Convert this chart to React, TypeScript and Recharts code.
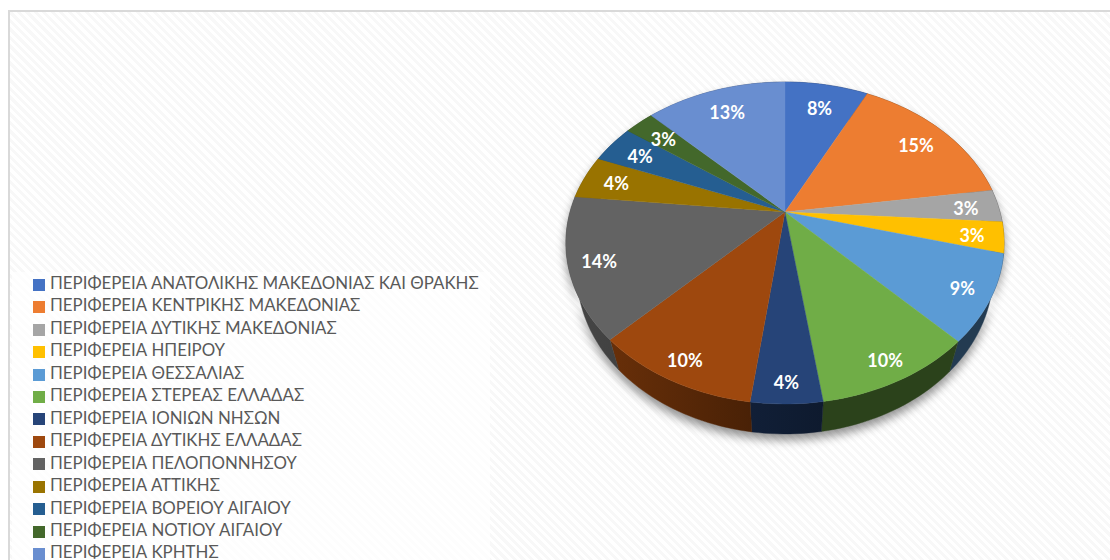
import React from "react";
import { PieChart, Pie, Legend } from "recharts";

const regions = [
  "ΠΕΡΙΦΕΡΕΙΑ ΑΝΑΤΟΛΙΚΗΣ ΜΑΚΕΔΟΝΙΑΣ ΚΑΙ ΘΡΑΚΗΣ",
  "ΠΕΡΙΦΕΡΕΙΑ ΚΕΝΤΡΙΚΗΣ ΜΑΚΕΔΟΝΙΑΣ",
  "ΠΕΡΙΦΕΡΕΙΑ ΔΥΤΙΚΗΣ ΜΑΚΕΔΟΝΙΑΣ",
  "ΠΕΡΙΦΕΡΕΙΑ ΗΠΕΙΡΟΥ",
  "ΠΕΡΙΦΕΡΕΙΑ ΘΕΣΣΑΛΙΑΣ",
  "ΠΕΡΙΦΕΡΕΙΑ ΣΤΕΡΕΑΣ ΕΛΛΑΔΑΣ",
  "ΠΕΡΙΦΕΡΕΙΑ ΙΟΝΙΩΝ ΝΗΣΩΝ",
  "ΠΕΡΙΦΕΡΕΙΑ ΔΥΤΙΚΗΣ ΕΛΛΑΔΑΣ",
  "ΠΕΡΙΦΕΡΕΙΑ ΠΕΛΟΠΟΝΝΗΣΟΥ",
  "ΠΕΡΙΦΕΡΕΙΑ ΑΤΤΙΚΗΣ",
  "ΠΕΡΙΦΕΡΕΙΑ ΒΟΡΕΙΟΥ ΑΙΓΑΙΟΥ",
  "ΠΕΡΙΦΕΡΕΙΑ ΝΟΤΙΟΥ ΑΙΓΑΙΟΥ",
  "ΠΕΡΙΦΕΡΕΙΑ ΚΡΗΤΗΣ",
];
const shares = [7.4, 15.3, 3.3, 3.1, 8.7, 9.9, 4.4, 10.3, 14.2, 4.4, 3.9, 2.6, 12.5];
// the percentages printed on the slices
const printed = [8, 15, 3, 3, 9, 10, 4, 10, 14, 4, 4, 3, 13];
const colors = [
  "#4472c4", "#ed7d31", "#a5a5a5", "#ffc000", "#5b9bd5", "#70ad47", "#264478",
  "#9e480e", "#636363", "#997300", "#255e91", "#43682b", "#698ed0",
];

const rows = regions.map((name, i) => ({ name, value: shares[i], fill: colors[i], printed: printed[i] }));

// Perspective projection of the unit pie onto the page
const PERSP = 0.1925;
const KY = 155;
const KX = 215;
const DEPTH = 30;
const SHRINK = 0.95;
const RAD = Math.PI / 180;

function project(cx: number, cy: number, angle: number, r = 1) {
  const t = (90 - angle) * RAD;
  const X = Math.sin(t) * r;
  const Y = Math.cos(t) * r;
  const d = 1 + PERSP * Y;
  return { x: cx + (KX * X) / d, y: cy - (KY * Y) / d };
}

function rim(cx: number, cy: number, start: number, end: number) {
  const n = Math.max(2, Math.ceil(Math.abs(end - start) / 1.5));
  const pts = [];
  for (let i = 0; i <= n; i++) pts.push(project(cx, cy, start + ((end - start) * i) / n));
  return pts;
}

function shade(hex: string, f: number) {
  const c = [1, 3, 5].map((i) => Math.round(parseInt(hex.slice(i, i + 2), 16) * f));
  return `rgb(${c[0]},${c[1]},${c[2]})`;
}

function TopSlice(p: any) {
  const pts = rim(p.cx, p.cy, p.startAngle, p.endAngle);
  const d = `M${p.cx},${p.cy} ` + pts.map((q) => `L${q.x.toFixed(2)},${q.y.toFixed(2)}`).join(" ") + " Z";
  return <path d={d} fill={p.fill} stroke={p.fill} strokeWidth={0.4} />;
}

function WallSlice(p: any) {
  const pts = rim(p.cx, p.cy, p.startAngle, p.endAngle);
  const low = pts
    .map((q) => ({ x: p.cx + (q.x - p.cx) * SHRINK, y: q.y + DEPTH }))
    .reverse();
  const d = [...pts, ...low].map((q, i) => `${i ? "L" : "M"}${q.x.toFixed(2)},${q.y.toFixed(2)}`).join(" ") + " Z";
  const factor = (x: number) => (x < p.cx ? 0.41 + ((p.cx - x) / 176) * 0.25 : 0.38);
  const a = pts[0].x;
  const b = pts[pts.length - 1].x;
  const left = Math.min(a, b);
  const right = Math.max(a, b);
  const id = `wall-${p.index}`;
  return (
    <g>
      <defs>
        <linearGradient id={id} x1="0" y1="0" x2="1" y2="0">
          <stop offset="0" stopColor={shade(p.fill, factor(left))} />
          <stop offset="1" stopColor={shade(p.fill, factor(right))} />
        </linearGradient>
      </defs>
      <path d={d} fill={`url(#${id})`} stroke={`url(#${id})`} strokeWidth={0.4} />
    </g>
  );
}

function SliceLabel(p: any) {
  const up = Math.cos((90 - p.midAngle) * RAD);
  const q = project(p.cx, p.cy, p.midAngle, 0.85 - 0.05 * up);
  return (
    <text x={q.x} y={q.y + 1} fill="#ffffff" textAnchor="middle" dominantBaseline="central"
      fontFamily="Lato, 'Open Sans', sans-serif" fontWeight={700} fontSize={18}>
      {`${rows[p.index].printed}%`}
    </text>
  );
}

const css = `
.pie-walls { filter: drop-shadow(0 6px 5px rgba(0,0,0,0.42)); }
.recharts-legend-item { height: 22.46px; line-height: 22.46px; white-space: nowrap; }
.recharts-legend-item svg { margin-right: 5px !important; }
.recharts-legend-item-text { color: #595959 !important; }
`;

export default function App() {
  return (
    <div style={{
      position: "absolute", left: 0, top: 0, width: 1110, height: 560, overflow: "hidden", background: "#ffffff",
    }}>
      <style>{css}</style>
      <div style={{
        position: "absolute", left: 8, top: 10, width: 1110, height: 560, boxSizing: "border-box",
        borderLeft: "2px solid #d9d9d9", borderTop: "2px solid #d9d9d9",
        background: "repeating-linear-gradient(45deg, #ffffff 0 3px, #f8f8f8 3px 6px)",
      }} />
      <div style={{ position: "absolute", left: 0, top: 0 }}>
        <PieChart width={1110} height={560} margin={{ top: 0, right: 0, bottom: 0, left: 0 }}>
          <Pie className="pie-walls" data={rows} dataKey="value" nameKey="name" cx={785} cy={212} outerRadius={130}
            startAngle={90} endAngle={-270} stroke="none" shape={WallSlice} legendType="none"
            isAnimationActive={false} label={false} labelLine={false} />
          <Pie data={rows} dataKey="value" nameKey="name" cx={785} cy={212} outerRadius={130}
            startAngle={90} endAngle={-270} stroke="none" shape={TopSlice} legendType="square"
            isAnimationActive={false} label={SliceLabel} labelLine={false} />
          <Legend layout="vertical" align="right" verticalAlign="top" iconType="square" iconSize={12}
            itemSorter={null}
            wrapperStyle={{
              position: "absolute", left: 12, right: "auto", top: 272, width: 478, height: 288, boxSizing: "border-box",
              padding: "0 0 0 21px", margin: 0, background: "rgba(255,255,255,0.75)", textAlign: "left",
              fontFamily: "Lato, 'Open Sans', sans-serif", fontSize: 16.85,
            }} />
        </PieChart>
      </div>
    </div>
  );
}
